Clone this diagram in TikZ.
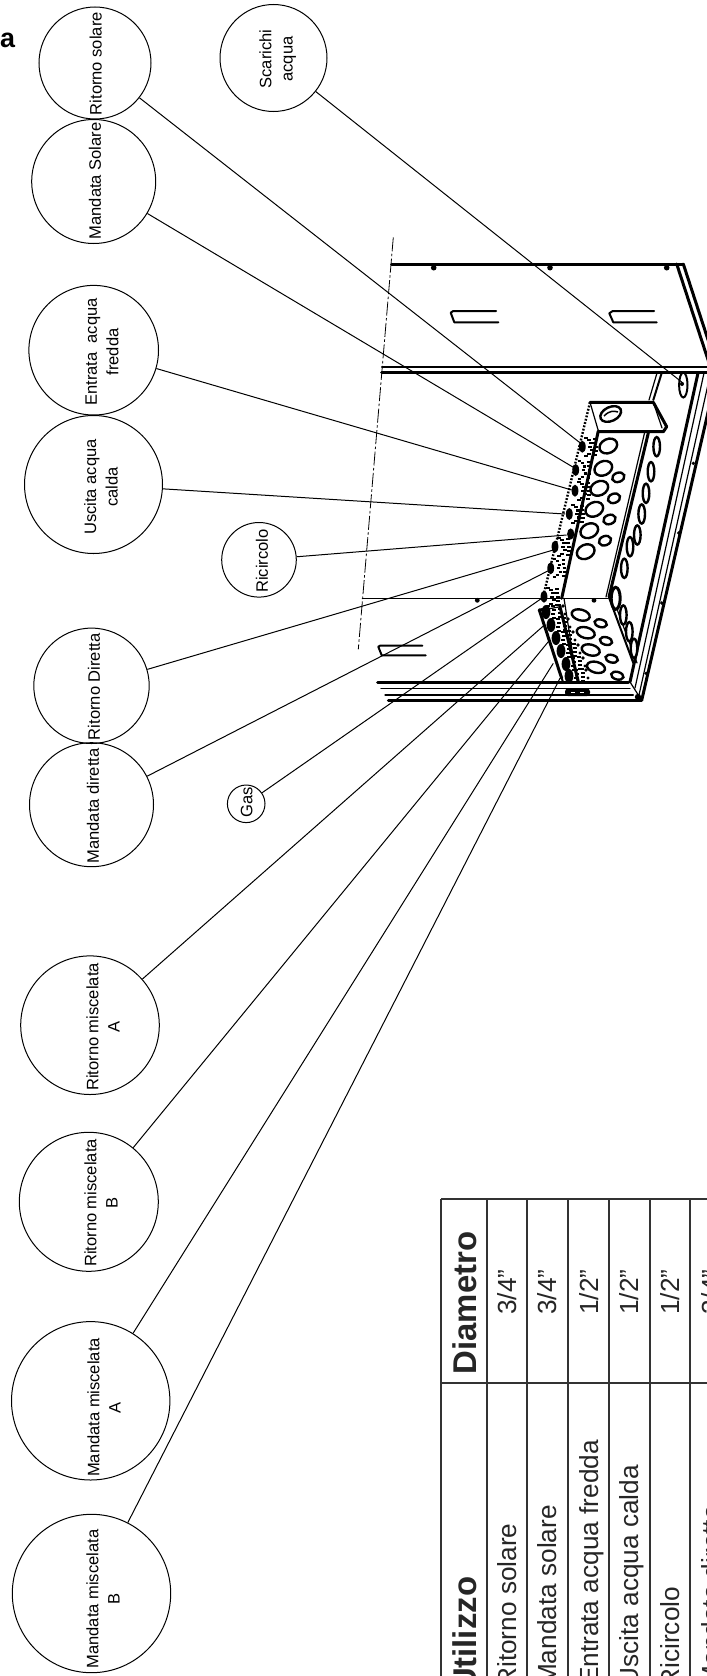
\documentclass[tikz,border=0pt]{standalone}
\usepackage{fontspec}
\setmainfont{Liberation Sans}
\newcommand{\lblfont}{\fontsize{16.6}{21.5}\selectfont}
\newcommand{\tabfont}{\fontsize{26.3}{30}\selectfont}
\newcommand{\tabbold}{\fontsize{33}{38}\selectfont\bfseries}
\tikzset{
  bub/.style={circle,draw=black,line width=1bp,inner sep=0pt,minimum size=2*#1*1bp},
  lbl/.style={rotate=90,align=center,font=\lblfont,inner sep=0pt,text=black},
  conn/.style={draw=black,line width=1bp},
  thickl/.style={draw=black,line width=3bp,line cap=round,line join=round},
  midl/.style={draw=black,line width=2bp,line cap=round,line join=round},
  thinl/.style={draw=black,line width=1.2bp,line cap=round},
  hole/.style={draw=black,line width=2.4bp,fill=white},
  grid/.style={draw=black!80,line width=1.9bp},
  cellt/.style={rotate=90,anchor=base east,font=\tabfont,inner sep=0pt,text=black!85},
  cellv/.style={rotate=90,anchor=base,font=\tabfont,inner sep=0pt,text=black!85},
  cellh/.style={rotate=90,anchor=base east,font=\tabbold,inner sep=0pt,text=black!85},
  cellhv/.style={rotate=90,anchor=base,font=\tabbold,inner sep=0pt,text=black!85},
}
\newcommand{\fitg}[2]{%
  \begin{scope}[shift={(#1,#2)}]
    \fill (0,0) ellipse [x radius=3.4,y radius=6];
    \foreach \a/\b in {5/-7,7/-3.5,6/0,8/3.5,5/7,11/-8,11/-4,12/0,12/4,11/8,2/-9,2/9}{
      \draw[line width=2.2bp] (\a,\b) -- (\a+3.6,\b);
    }
  \end{scope}}
\newcommand{\fitl}[2]{%
  \begin{scope}[shift={(#1,#2)}]
    \fill (0,0) ellipse [x radius=4.4,y radius=7];
    \foreach \a/\b in {5/-6,6/-2,5/2,6/6,11/-7,12/-3,12/1,12/5}{
      \draw[line width=2.6bp] (\a,\b) -- (\a+4,\b);
    }
    \fill (17,-6) circle (1.9);
    \fill (19,2) circle (1.7);
  \end{scope}}
\begin{document}
\begin{tikzpicture}[x=1bp,y=-1bp]
\path[use as bounding box,fill=white] (0,0) rectangle (707,1676);
\clip (0,0) rectangle (707,1676);

% ---------- cabinet ----------
\path[thickl] (391.7,264) -- (683.3,264);
\path[thickl] (676.7,264) -- (712,372);
\path[thickl] (683.3,264) -- (712,352);
\path[thinl] (381.7,367) -- (707,367);
\path[thickl] (381.7,372) -- (707,372);
\foreach \x in {433.7,550,666.7} \fill (\x,267.7) circle (2.8);
\path[midl] (496,311) -- (453.3,311) -- (450.7,312.7) -- (454.3,322.3) -- (498.3,322.3);
\path[midl] (654,311) -- (612.7,311) -- (609.3,313.3) -- (613.3,322.3) -- (656.7,322.3);
% centre line
\draw[line width=0.8bp,dash pattern=on 14bp off 2.5bp on 2.5bp off 2.5bp] (393.3,237.3) -- (358.3,649.3);
% lower panel
\path[thinl] (362.3,598.3) -- (608.3,598.3);
\fill (477.3,600.3) circle (2.4);
\fill (594,600.3) circle (2.4);
\path[midl] (422.3,645.7) -- (380,645.7) -- (378.3,646.7) -- (381.7,655.3) -- (425.7,655.3);
% bottom rails
\path[thickl] (377.7,682.3) -- (628.3,682.3);
\path[thinl] (381,688.7) -- (630,688.7);
\path[thinl] (385,695) -- (633.3,695);
\path[thickl] (388.3,700.3) -- (641.7,700.3);
\fill[rounded corners=3bp] (565,688.5) rectangle (590,696);
\draw[white,line width=0.8bp] (571,692.3) -- (575,692.3) (580,692.3) -- (584,692.3);
% right frame
\path[thickl] (698,373) -- (630,682);
\path[thinl] (704,373) -- (635,688);
\path[thinl] (709,380) -- (639,695);
\path[thickl] (712,395) -- (641.7,700.3);
\path[thinl] (630,682) -- (641.7,700.3);
\fill (638,697) circle (3.2);
\foreach \x/\y in {693.3/463.3,678.7/533,661.7/603,646/673.3}{\fill (\x,\y) circle (1.8);}
% bracket
\path[midl] (661.7,373) -- (653.3,400);
\path[thinl] (657,373) -- (649,400);
\path[thickl] (590,402.3) -- (653.3,402.3) -- (666.7,426.7) -- (663.3,431.7) -- (598.3,431.7);
\path[thinl] (590,402.3) -- (598.3,430.7);
\path[thinl] (653.3,402.3) -- (662,428);
\draw[hole] (610.7,414) ellipse [x radius=11,y radius=7,rotate=25];
\draw[line width=1.5bp] (604,416) .. controls (610,410) and (614,411) .. (618,412);
\draw[line width=2bp] (683.3,385) ellipse [x radius=4.2,y radius=12.5];
\fill (682,384) circle (2);
% front plates
\path[thickl] (598.3,431) -- (561.7,598.3);
\path[thickl] (648.3,433) -- (609,597);
\path[thinl] (644.5,433) -- (606,597);
\path[midl] (609.3,598.3) -- (633.3,663);
\path[thinl] (613,598.3) -- (637,663);
\path[thickl] (539.3,610) -- (561.7,678.3);
\path[thickl] (560,606.7) -- (578.3,681.7);
\path[thickl] (539.3,610) -- (548,609);
\path[thinl] (548,609) -- (560,606.7);
\path[thinl] (564,598.3) -- (576.7,680);
\path[midl] (561.7,678.3) -- (563,682);
% holes, upper plate
\foreach \x/\y in {608.3/446,603.3/468.3,599.3/488.3,594.3/509.3,589.3/530.7,585.7/551.7}
  \draw[hole] (\x,\y) ellipse [x radius=9.2,y radius=7,rotate=25];
\foreach \x/\y in {618.3/477.3,614/498.3,609.5/519.5,605/540.7}
  \draw[hole] (\x,\y) ellipse [x radius=6.3,y radius=4.6,rotate=20];
% holes, side column
\foreach \x/\y in {656.7/446.7,651/471.7,646/493.3,641.7/514,637.3/535,630/546.7,624.3/568.3,623.3/615,629.3/631.7,634/648.3}
  \draw[hole] (\x,\y) ellipse [x radius=3.3,y radius=9.6];
\draw[hole,line width=3bp] (615.7,598.3) ellipse [x radius=4.5,y radius=11];
% holes, lower plate
\foreach \x/\y in {580.7/615,585.7/632.7,590.7/650,596/667.3}
  \draw[hole] (\x,\y) ellipse [x radius=9.2,y radius=5.4,rotate=-15];
\foreach \x/\y in {600.7/623.3,606/641,611.7/658.7,617.3/675.7}
  \draw[hole] (\x,\y) ellipse [x radius=6.3,y radius=3.8,rotate=-15];
% dotted flange edge
\draw[line width=2.4bp,dash pattern=on 1.8bp off 1.6bp] (590,402.3) -- (543.3,596);
% fittings
\fitg{582.3}{446.7}\fitg{575.7}{470}\fitg{575}{490.7}\fitg{569.3}{514}
\fill (570.7,534) ellipse [x radius=3.6,y radius=5.6];
\fitg{555}{546.7}\fitg{550.7}{568.3}\fitg{544}{596.7}
\fitl{546}{612}\fitl{551}{625}\fitl{556}{638}\fitl{561}{651}\fitl{566}{664}\fitl{569}{676}

% ---------- table ----------
\path[grid] (441,1199.3) -- (707,1199.3);
\path[grid] (441,1382.7) -- (707,1382.7);
\foreach \x in {441,486.7,527.3,567.7,608.7,650,690}
  \path[grid] (\x,1199.3) -- (\x,1676);
\node[cellhv] (hd) at (476,1303) {Diametro};
\node[cellh] (hu) at (476,1576.7) {Utilizzo};
\node[cellt] (u1) at (516,1523.3) {Ritorno solare};
\node[cellt] (u2) at (556.7,1505) {Mandata solare};
\node[cellt] (u3) at (598,1440) {Entrata acqua fredda};
\node[cellt] (u4) at (638,1465) {Uscita acqua calda};
\node[cellt] (u5) at (679,1586.7) {Ricircolo};
\node[cellt] (u6) at (720,1505) {Mandata diretta};
\node[cellv] (v1) at (516,1292) {3/4”};
\node[cellv] (v2) at (556.7,1292) {3/4”};
\node[cellv] (v3) at (598,1292) {1/2”};
\node[cellv] (v4) at (638,1292) {1/2”};
\node[cellv] (v5) at (679,1292) {1/2”};
\node[cellv] (v6) at (720,1292) {3/4”};

% ---------- bubbles ----------
\node[bub=56]   (c1)  at (95,63) {};
\node[bub=62]   (c2)  at (93.7,181.5) {};
\node[bub=53.5] (c3)  at (273.5,58) {};
\node[bub=64.8] (c4)  at (93.7,350.2) {};
\node[bub=69]   (c5)  at (93.5,484.5) {};
\node[bub=37.3] (c6)  at (259,559.8) {};
\node[bub=57.7] (c7)  at (91.5,685.8) {};
\node[bub=62]   (c8)  at (91.5,804.7) {};
\node[bub=18.8] (c9)  at (246.2,803.8) {};
\node[bub=69.3] (c10) at (90,1025.2) {};
\node[bub=69.5] (c11) at (88.8,1201.8) {};
\node[bub=79.2] (c12) at (90.7,1400.8) {};
\node[bub=79.2] (c13) at (91.5,1593.5) {};

\node[lbl] (t1)  at (95.7,63.7) {Ritorno solare};
\node[lbl] (t2)  at (95,180.8) {Mandata Solare};
\node[lbl] (t3)  at (277.7,59) {Scarichi\\acqua};
\node[lbl] (t4)  at (102,352) {Entrata\ \ acqua\\fredda};
\node[lbl] (t5)  at (101,487) {Uscita acqua\\calda};
\node[lbl] (t6)  at (262,561) {Ricircolo};
\node[lbl] (t7)  at (94,686.7) {Ritorno Diretta};
\node[lbl] (t8)  at (93,806) {Mandata diretta};
\node[lbl] (t9)  at (246.7,802.5) {Gas};
\node[lbl] (t10) at (103,1027) {Ritorno miscelata\\A};
\node[lbl] (t11) at (101,1203) {Ritorno miscelata\\B};
\node[lbl] (t12) at (104,1407.5) {Mandata miscelata\\A};
\node[lbl] (t13) at (103,1599) {Mandata miscelata\\B};

\node[font=\fontsize{27}{30}\selectfont\bfseries,inner sep=0pt] (aa) at (7.5,40.5) {a};

% ---------- connector ends ----------
\coordinate (e1)  at (585,446.7);
\coordinate (e2)  at (575,468.3);
\coordinate (e3)  at (683.3,383.3);
\coordinate (e4)  at (571.7,490);
\coordinate (e5)  at (565,514);
\coordinate (e6)  at (566.7,535);
\coordinate (e7)  at (553.3,550);
\coordinate (e8)  at (548.3,570.7);
\coordinate (e9)  at (541.7,598.3);
\coordinate (e10) at (543.3,626);
\coordinate (e11) at (548.3,641.7);
\coordinate (e12) at (553.3,663.3);
\coordinate (e13) at (560,678.3);
\foreach \i in {1,...,13} \path[conn] (c\i) -- (e\i);
\end{tikzpicture}
\end{document}
